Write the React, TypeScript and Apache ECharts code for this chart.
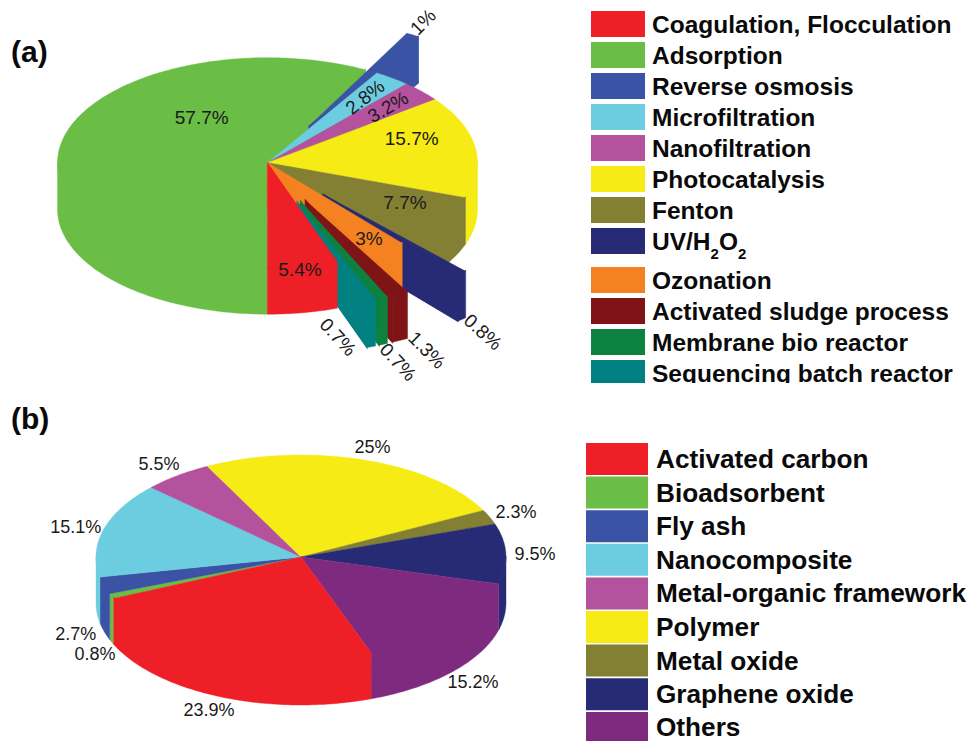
import React, { useEffect, useRef } from "react";
import * as echarts from "echarts";

// ---------- data ----------
const namesA = [
  "Coagulation, Flocculation", "Adsorption", "Reverse osmosis", "Microfiltration",
  "Nanofiltration", "Photocatalysis", "Fenton", "UV/H2O2",
  "Ozonation", "Activated sludge process", "Membrane bio reactor", "Sequencing batch reactor",
];
const valuesA = [5.4, 57.7, 1, 2.8, 3.2, 15.7, 7.7, 0.8, 3, 1.3, 0.7, 0.7];
const explodeA = [0, 0, 0.4, 0, 0, 0, 0, 0.4, 0, 0.4, 0.4, 0.4];
const colorsA = [
  "#EE1F26", "#6ABD45", "#3A53A4", "#6DCDE0", "#B4529E", "#F6EB14",
  "#837F33", "#272B75", "#F58220", "#7F1416", "#0C8140", "#008080",
];

const namesB = [
  "Activated carbon", "Bioadsorbent", "Fly ash", "Nanocomposite",
  "Metal-organic framework", "Polymer", "Metal oxide", "Graphene oxide", "Others",
];
const valuesB = [23.9, 0.8, 2.7, 15.1, 5.5, 25, 2.3, 9.5, 15.2];
const explodeB = [0, 0, 0, 0, 0, 0, 0, 0, 0];
const colorsB = [
  "#EE1F26", "#6ABD45", "#3A53A4", "#6DCDE0", "#B4529E",
  "#F6EB14", "#837F33", "#272B75", "#7E2A7E",
];

// ---------- layout ----------
const pieA = { cx: 267.5, cy: 162.7, rx: 210, ry: 105, depth: 46.5, start: 160.6 };
const pieB = { cx: 301, cy: 557, rx: 205, ry: 102, depth: 46, start: 160 };
// label centre x, y, rotation in degrees (counter-clockwise), one per slice
const labelPlaceA = [
  [300, 269, 0], [201.7, 117, 0], [423, 22, 45], [365, 97, 38], [388, 107, 30], [411.7, 138, 0],
  [405, 202.7, 0], [483, 332, -42], [369, 238, 0], [427, 350, -45], [398, 362, -47], [338, 337, -47],
];
const labelPlaceB = [
  [209, 710, 0], [95, 654, 0], [75.7, 634.3, 0], [75.7, 526.7, 0], [159, 464.3, 0],
  [372.5, 447, 0], [516, 512, 0], [535, 554, 0], [473, 682, 0],
];

const D2R = Math.PI / 180;

function sliceAngles(values: number[], start: number) {
  let a = start;
  return values.map((v) => {
    const a0 = a;
    a += (v / 100) * 360;
    return [a0, a];
  });
}

function makeSliceSeries(
  pie: typeof pieA, names: string[], values: number[], colors: string[], explode: number[],
) {
  const angles = sliceAngles(values, pie.start);
  const n = values.length;
  const series: any[] = [];
  // painted clockwise from the second slice, so the first slice comes last
  for (let k = 1; k <= n; k++) {
    const i = k % n;
    const [a0, a1] = angles[i];
    const color = colors[i];
    const mid = ((a0 + a1) / 2) * D2R;
    const ox = explode[i] * pie.rx * Math.sin(mid);
    const oy = -explode[i] * pie.ry * Math.cos(mid);
    const pt = (deg: number) => [
      pie.cx + ox + pie.rx * Math.sin(deg * D2R),
      pie.cy + oy - pie.ry * Math.cos(deg * D2R),
    ];
    const arc = (from: number, to: number) => {
      const steps = Math.max(2, Math.ceil(to - from));
      const out: number[][] = [];
      for (let s = 0; s <= steps; s++) out.push(pt(from + ((to - from) * s) / steps));
      return out;
    };
    const down = (p: number[]) => [p[0], p[1] + pie.depth];
    const apex = [pie.cx + ox, pie.cy + oy];
    const prev = (i + n - 1) % n;
    const next = (i + 1) % n;
    const poly = (points: number[][], lineWidth = 0.4) => ({
      type: "polygon",
      shape: { points },
      style: { fill: color, stroke: color, lineWidth },
    });

    series.push({
      type: "custom",
      name: names[i],
      coordinateSystem: "none",
      silent: true,
      itemStyle: { color },
      data: [values[i]],
      renderItem: () => {
        const children: any[] = [];
        // radial faces get a thicker stroke so they close up against the outer wall
        if (Math.sin(a1 * D2R) > 0 && (explode[i] > 0 || explode[next] > 0)) {
          const e = pt(a1);
          children.push(poly([apex, e, down(e), down(apex)], 1.2));
        }
        if (Math.sin(a0 * D2R) < 0 && (explode[i] > 0 || explode[prev] > 0)) {
          const e = pt(a0);
          children.push(poly([apex, e, down(e), down(apex)], 1.2));
        }
        [[90, 270], [450, 630]].forEach(([lo, hi]) => {
          const from = Math.max(a0, lo);
          const to = Math.min(a1, hi);
          if (to > from) {
            const rim = arc(from, to);
            // the wall's upper edge runs a pixel under the top face, so no seam shows
            const upper = rim.map((p) => [p[0], p[1] - 1]);
            children.push(poly([...upper, ...rim.slice().reverse().map(down)]));
          }
        });
        children.push(poly([apex, ...arc(a0, a1)]));
        return { type: "group", children };
      },
    });
  }
  return series;
}

function makeLabelSeries(values: number[], place: number[][], size: number) {
  return {
    type: "custom",
    name: "labels" + size,
    coordinateSystem: "none",
    silent: true,
    z: 5,
    data: values,
    renderItem: (params: any) => {
      const i = params.dataIndex;
      const [x, y, rot] = place[i];
      return {
        type: "text",
        x,
        y,
        rotation: rot * D2R,
        style: {
          text: `${values[i]}%`,
          fill: "#1a1a1a",
          font: `${size}px "Liberation Sans", Arial, sans-serif`,
          align: "center",
          verticalAlign: "middle",
        },
      };
    },
  };
}

const legendFont = '"Liberation Sans", Arial, sans-serif';

function makeLegend(
  names: string[], colors: string[], allNames: string[], left: number, top: number,
  w: number, h: number, gap: number, size: number, textPad: number,
) {
  const subSize = Math.round(size * 0.62);
  return {
    orient: "vertical",
    left,
    top,
    padding: 0,
    itemWidth: w,
    itemHeight: h,
    itemGap: gap,
    icon: "rect",
    selectedMode: false,
    data: names.map((name) => ({
      name,
      itemStyle: { color: colors[allNames.indexOf(name)] },
    })),
    formatter: (name: string) =>
      name === "UV/H2O2" ? "{m|UV/H}{s|2}{m|O}{s|2}" : name,
    textStyle: {
      fontFamily: legendFont,
      fontWeight: "bold",
      fontSize: size,
      color: "#0a0a0a",
      padding: [0, 0, 0, textPad],
      rich: {
        m: { fontFamily: legendFont, fontWeight: "bold", fontSize: size, color: "#0a0a0a" },
        s: {
          fontFamily: legendFont, fontWeight: "bold", fontSize: subSize, color: "#0a0a0a",
          padding: [24, 0, 0, 0],
        },
      },
    },
  };
}

export default function App() {
  const ref = useRef<HTMLDivElement>(null);
  useEffect(() => {
    const chart = echarts.init(ref.current!, null, { renderer: "svg" });
    const panelTitle = (text: string, top: number) => ({
      text,
      left: 11,
      top,
      padding: 0,
      textStyle: {
        fontFamily: legendFont, fontWeight: "bold", fontSize: 30, color: "#0a0a0a",
      },
    });
    chart.setOption({
      animation: false,
      backgroundColor: "#ffffff",
      title: [panelTitle("(a)", 36), panelTitle("(b)", 403)],
      legend: [
        makeLegend(namesA.slice(0, 8), colorsA, namesA, 591, 11, 54, 26, 5, 24.5, 2),
        makeLegend(namesA.slice(8), colorsA, namesA, 591, 267, 54, 26, 5, 24.5, 2),
        makeLegend(namesB.slice(0, 8), colorsB, namesB, 586, 443, 62, 32, 1.6, 26.2, 3),
        makeLegend(namesB.slice(8), colorsB, namesB, 586, 712, 62, 29, 0, 26.2, 3),
      ],
      series: [
        ...makeSliceSeries(pieA, namesA, valuesA, colorsA, explodeA),
        ...makeSliceSeries(pieB, namesB, valuesB, colorsB, explodeB),
        makeLabelSeries(valuesA, labelPlaceA, 19),
        makeLabelSeries(valuesB, labelPlaceB, 18),
      ],
      graphic: [
        {
          type: "rect",
          z: 100,
          shape: { x: 570, y: 383, width: 399, height: 12 },
          style: { fill: "#ffffff" },
        },
      ],
    });
    return () => chart.dispose();
  }, []);
  return (
    <div
      ref={ref}
      style={{ position: "fixed", left: 0, top: 0, width: 969, height: 741 }}
    />
  );
}
